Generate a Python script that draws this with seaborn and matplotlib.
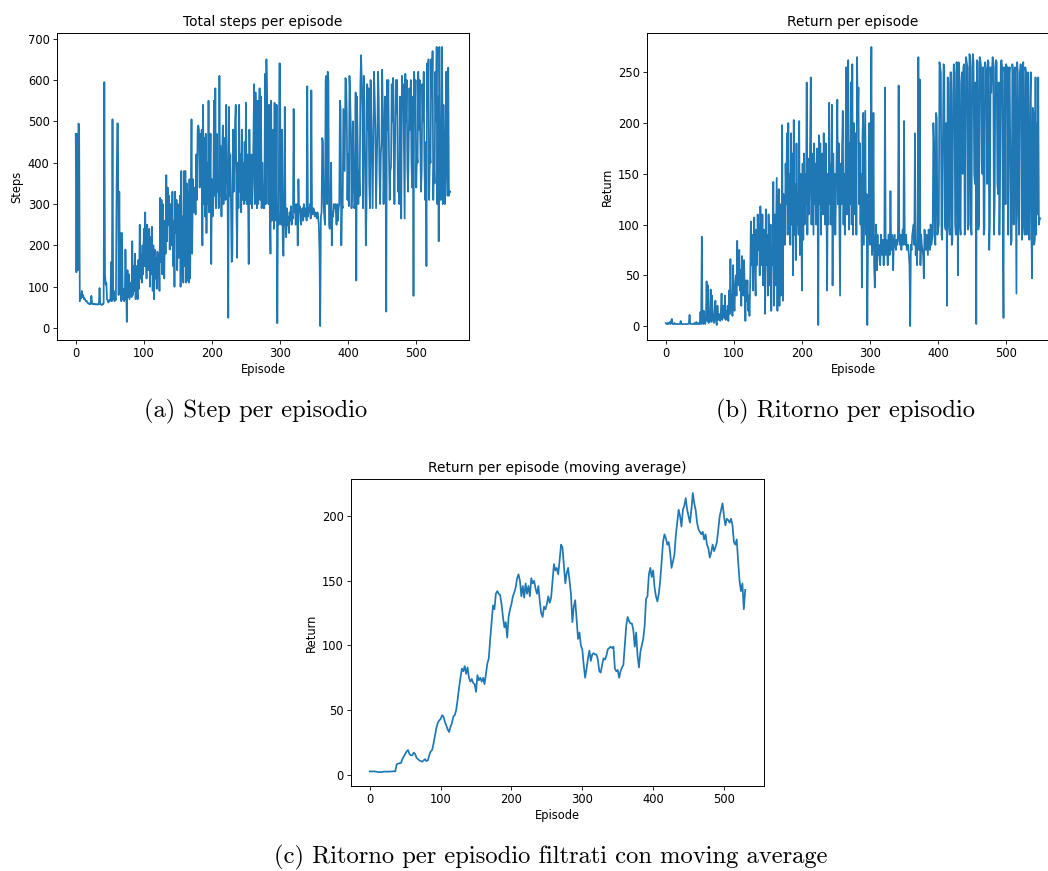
import numpy as np
import pandas as pd
import matplotlib
matplotlib.use("Agg")
import matplotlib.pyplot as plt
import seaborn as sns

# ---------------- data ----------------
steps_per_episode = [
    470, 135, 470, 140, 495, 490, 65, 80, 72, 90,
    75, 80, 70, 72, 68, 65, 66, 62, 60, 60,
    58, 60, 58, 78, 60, 58, 58, 59, 57, 58,
    58, 57, 58, 57, 58, 97, 58, 57, 56, 58,
    57, 60, 595, 130, 105, 110, 70, 65, 62, 68,
    65, 70, 160, 65, 505, 70, 90, 65, 72, 68,
    330, 495, 495, 80, 330, 100, 230, 65, 230, 70,
    95, 65, 70, 190, 100, 15, 140, 75, 130, 70,
    90, 110, 75, 210, 80, 150, 90, 180, 70, 150,
    100, 70, 165, 95, 250, 120, 180, 110, 200, 130,
    240, 150, 280, 180, 120, 250, 160, 140, 240, 100,
    220, 130, 245, 90, 200, 70, 190, 120, 170, 95,
    185, 130, 180, 90, 315, 160, 310, 130, 300, 200,
    120, 260, 180, 370, 210, 340, 250, 320, 190, 300,
    220, 200, 330, 150, 260, 100, 330, 230, 310, 140,
    300, 170, 200, 320, 100, 380, 130, 270, 110, 380,
    150, 380, 110, 350, 115, 330, 110, 360, 120, 280,
    505, 180, 360, 280, 300, 340, 275, 420, 310, 480,
    490, 480, 340, 470, 420, 480, 200, 540, 300, 460,
    270, 470, 230, 400, 300, 550, 280, 350, 470, 155,
    360, 270, 300, 550, 320, 580, 290, 470, 330, 370,
    290, 610, 320, 440, 270, 420, 490, 300, 460, 350,
    310, 540, 420, 330, 25, 535, 320, 420, 300, 160,
    175, 480, 330, 400, 500, 540, 290, 170, 400, 290,
    540, 330, 420, 280, 480, 310, 400, 300, 450, 310,
    545, 300, 420, 330, 155, 480, 350, 300, 420, 290,
    350, 460, 590, 300, 570, 400, 290, 550, 300, 460,
    580, 310, 560, 290, 400, 300, 290, 290, 615, 300,
    650, 550, 460, 300, 540, 280, 180, 550, 260, 470,
    480, 240, 545, 270, 260, 540, 12, 300, 250, 640,
    640, 260, 250, 480, 210, 175, 280, 535, 260, 220,
    290, 250, 270, 230, 280, 260, 295, 250, 270, 265,
    530, 280, 300, 250, 270, 300, 200, 360, 280, 295,
    260, 250, 285, 290, 260, 300, 270, 280, 290, 260,
    585, 270, 290, 280, 300, 265, 575, 280, 275, 290,
    285, 270, 280, 275, 265, 280, 270, 250, 180, 5,
    270, 280, 460, 450, 300, 270, 250, 600, 610, 300,
    620, 600, 250, 240, 300, 400, 200, 280, 270, 300,
    290, 300, 280, 250, 300, 260, 290, 300, 550, 530,
    200, 300, 290, 530, 460, 380, 605, 600, 520, 310,
    420, 295, 610, 560, 480, 290, 350, 500, 380, 290,
    300, 570, 115, 560, 450, 300, 380, 320, 590, 660,
    600, 520, 290, 610, 540, 400, 200, 290, 590, 480,
    580, 350, 290, 600, 510, 400, 290, 450, 620, 560,
    480, 290, 380, 480, 620, 550, 380, 300, 420, 450,
    625, 520, 300, 400, 560, 400, 40, 600, 480, 600,
    420, 310, 380, 390, 590, 500, 605, 420, 300, 450,
    600, 520, 600, 330, 400, 300, 560, 470, 265, 610,
    540, 590, 420, 265, 615, 500, 600, 390, 330, 450,
    580, 480, 600, 400, 340, 560, 78, 620, 520, 600,
    340, 420, 400, 620, 480, 600, 450, 330, 380, 590,
    500, 620, 400, 310, 450, 150, 640, 530, 650, 310,
    420, 400, 650, 560, 670, 310, 400, 350, 620, 500,
    680, 300, 560, 210, 680, 420, 310, 450, 680, 300,
    540, 430, 300, 380, 620, 500, 320, 630, 320, 330,
    330,
]

return_per_episode = [
    3, 2, 2, 3, 2, 3, 4, 2, 5, 7,
    2, 2, 2, 3, 2, 2, 2, 2, 2, 2,
    2, 2, 5, 2, 2, 2, 2, 2, 2, 2,
    2, 2, 2, 2, 3, 11, 2, 2, 2, 2,
    2, 2, 3, 2, 2, 4, 2, 2, 3, 2,
    2, 14, 2, 88, 3, 2, 15, 3, 2, 8,
    44, 5, 40, 3, 12, 8, 36, 4, 30, 10,
    5, 3, 18, 25, 4, 1, 20, 6, 12, 8,
    5, 15, 32, 6, 20, 10, 8, 30, 6, 15,
    8, 20, 5, 35, 12, 66, 20, 30, 10, 60,
    25, 15, 40, 50, 30, 84, 40, 60, 75, 35,
    55, 20, 69, 45, 30, 65, 35, 5, 45, 25,
    45, 15, 30, 10, 40, 103, 60, 90, 35, 80,
    107, 55, 30, 95, 60, 110, 75, 100, 50, 118,
    80, 60, 110, 40, 95, 70, 12, 115, 60, 90,
    30, 110, 70, 40, 100, 15, 80, 60, 142, 20,
    110, 40, 90, 146, 15, 100, 135, 20, 120, 30,
    60, 198, 25, 130, 100, 80, 160, 120, 190, 90,
    200, 110, 150, 80, 190, 100, 170, 50, 203, 90,
    140, 65, 180, 100, 130, 90, 202, 70, 150, 110,
    35, 160, 85, 170, 100, 150, 120, 240, 90, 165,
    110, 130, 180, 245, 100, 170, 130, 90, 180, 120,
    160, 100, 175, 130, 1, 188, 120, 180, 90, 150,
    170, 110, 190, 140, 100, 180, 120, 35, 150, 100,
    220, 120, 160, 100, 218, 40, 170, 110, 150, 90,
    130, 170, 223, 120, 180, 100, 30, 160, 120, 175,
    212, 100, 150, 90, 160, 255, 110, 200, 262, 95,
    180, 120, 240, 100, 258, 90, 200, 150, 110, 190,
    90, 265, 200, 235, 120, 180, 100, 150, 38, 190,
    210, 80, 150, 212, 90, 130, 1, 80, 120, 200,
    80, 150, 275, 70, 90, 210, 60, 38, 80, 100,
    55, 90, 70, 80, 65, 60, 90, 75, 70, 85,
    60, 80, 235, 70, 85, 75, 60, 90, 80, 70,
    133, 75, 90, 80, 55, 85, 90, 80, 75, 85,
    80, 90, 237, 85, 80, 90, 75, 85, 95, 80,
    202, 85, 80, 90, 75, 80, 80, 70, 60, 0,
    80, 75, 90, 95, 100, 80, 190, 70, 80, 60,
    100, 265, 75, 243, 60, 90, 80, 75, 70, 47,
    95, 85, 75, 90, 80, 70, 95, 90, 75, 100,
    80, 85, 90, 200, 180, 85, 80, 210, 205, 90,
    95, 100, 260, 255, 250, 90, 85, 180, 258, 255,
    100, 95, 200, 20, 245, 240, 100, 90, 250, 250,
    80, 85, 230, 258, 250, 100, 90, 260, 255, 50,
    260, 255, 100, 90, 240, 250, 150, 255, 258, 90,
    100, 265, 260, 255, 95, 100, 268, 265, 100, 90,
    255, 268, 260, 150, 140, 240, 2, 262, 260, 95,
    100, 265, 262, 255, 160, 150, 255, 90, 95, 260,
    255, 250, 140, 262, 260, 75, 100, 255, 230, 250,
    265, 260, 90, 120, 255, 262, 260, 140, 130, 240,
    90, 150, 258, 262, 255, 100, 8, 255, 250, 120,
    258, 250, 255, 90, 245, 255, 160, 80, 85, 258,
    250, 100, 250, 255, 150, 32, 260, 250, 110, 90,
    250, 258, 255, 85, 240, 260, 100, 90, 255, 250,
    90, 240, 250, 100, 85, 220, 250, 90, 47, 215,
    210, 80, 85, 245, 90, 200, 110, 245, 100, 106,
    106,
]

# moving average of the return, read every second episode (0, 2, ..., 530)
moving_average_return = [
    2.5, 2.5, 2.5, 2.5, 2.4, 2.2, 2.0, 2.0, 2.0, 2.1,
    2.4, 2.3, 2.3, 2.3, 2.4, 2.4, 2.5, 2.6, 2.5, 8.0,
    8.5, 8.8, 9.0, 12, 14, 16, 18, 19, 16, 15,
    15, 17, 16, 13, 12, 11, 10.5, 10, 11, 12,
    10.5, 11, 15, 18, 19, 24, 30, 36, 40, 42,
    43, 46, 45, 41, 38, 35, 33, 37, 40, 45,
    46, 50, 58, 67, 75, 82, 80, 84, 78, 83,
    75, 72, 74, 71, 70, 64, 77, 73, 75, 72,
    75, 70, 78, 86, 90, 105, 118, 131, 128, 140,
    142, 140, 139, 132, 122, 114, 118, 106, 122, 128,
    132, 138, 141, 145, 152, 155, 150, 138, 146, 137,
    148, 140, 146, 138, 152, 148, 150, 144, 140, 146,
    134, 125, 122, 130, 128, 132, 138, 133, 137, 150,
    163, 158, 160, 155, 166, 178, 176, 162, 148, 156,
    160, 150, 140, 118, 130, 135, 120, 105, 110, 100,
    97, 85, 75, 82, 90, 96, 88, 93, 94, 93,
    93, 89, 80, 79, 85, 90, 89, 92, 97, 98,
    99, 98, 99, 82, 80, 81, 75, 80, 83, 85,
    100, 115, 122, 119, 117, 117, 112, 99, 110, 92,
    83, 95, 100, 105, 115, 136, 138, 155, 160, 153,
    158, 145, 138, 134, 140, 150, 165, 180, 186, 183,
    178, 180, 172, 160, 165, 170, 185, 195, 205, 200,
    192, 205, 208, 214, 205, 200, 195, 205, 218, 210,
    205, 195, 190, 188, 186, 188, 182, 186, 178, 175,
    168, 172, 178, 173, 176, 180, 190, 200, 205, 210,
    200, 193, 198, 197, 195, 198, 193, 180, 178, 182,
    165, 150, 142, 148, 128, 143,
]

titles = ["Total steps per episode", "Return per episode",
          "Return per episode (moving average)"]
ylabels = ["Steps", "Return", "Return"]
xlabel = "Episode"
captions = ["(a) Step per episodio", "(b) Ritorno per episodio",
            "(c) Ritorno per episodio filtrati con moving average"]

# ---------------- figure ----------------
W, H = 1048, 871
fig = plt.figure(figsize=(W / 100, H / 100), dpi=100)

def px_axes(left, top, right, bottom):
    return fig.add_axes([left / W, 1 - bottom / H, (right - left) / W, (bottom - top) / H])

ax_a = px_axes(57, 33, 469, 340)
ax_b = px_axes(647, 33, 1059, 340)
ax_c = px_axes(351, 479, 764, 786)

df_steps = pd.DataFrame({"Episode": np.arange(len(steps_per_episode)), "Steps": steps_per_episode})
df_ret = pd.DataFrame({"Episode": np.arange(len(return_per_episode)), "Return": return_per_episode})
df_ma = pd.DataFrame({"Episode": np.arange(0, 2 * len(moving_average_return), 2),
                      "Return": moving_average_return})

blue = "#1f77b4"
lw = 1.25
sns.lineplot(data=df_steps, x="Episode", y="Steps", ax=ax_a, color=blue, linewidth=lw)
sns.lineplot(data=df_ret, x="Episode", y="Return", ax=ax_b, color=blue, linewidth=lw)
sns.lineplot(data=df_ma, x="Episode", y="Return", ax=ax_c, color=blue, linewidth=lw)

tick_fs = 8.3
for ax, t, yl in zip([ax_a, ax_b, ax_c], titles, ylabels):
    ax.set_title(t, fontsize=9.9, pad=5)
    ax.set_xlabel(xlabel, fontsize=tick_fs, labelpad=2)
    ax.set_ylabel(yl, fontsize=tick_fs, labelpad=3)
    ax.tick_params(labelsize=tick_fs, length=2.8, width=0.6, pad=2.5)
    for s in ax.spines.values():
        s.set_linewidth(0.7)
    ax.margins(x=0.05, y=0.05)

ax_a.set_yticks([0, 100, 200, 300, 400, 500, 600, 700])
ax_a.set_xticks([0, 100, 200, 300, 400, 500])
ax_b.set_yticks([0, 50, 100, 150, 200, 250])
ax_b.set_xticks([0, 100, 200, 300, 400, 500])
ax_c.set_yticks([0, 50, 100, 150, 200])
ax_c.set_xticks([0, 100, 200, 300, 400, 500])
ax_b.set_xlim(-27.5, 577.5)

cap_kw = dict(fontsize=17.7, family="cmr10", ha="center", va="center")
fig.text(256 / W, 1 - 411 / H, captions[0], **cap_kw)
fig.text(846 / W, 1 - 411 / H, captions[1], **cap_kw)
fig.text(551 / W, 1 - 857 / H, captions[2], **cap_kw)

fig.savefig("out.png", dpi=100)
